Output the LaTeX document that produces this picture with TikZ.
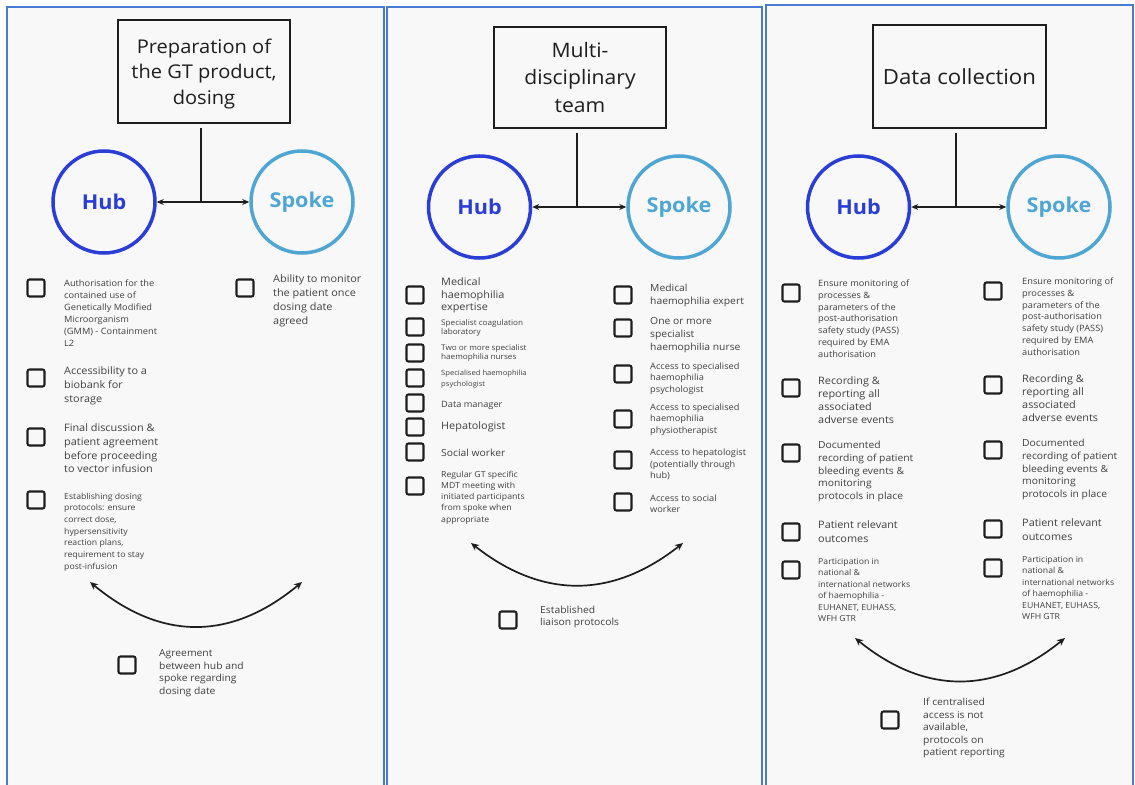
\documentclass[tikz,border=0pt]{standalone}
\usepackage{fontspec}
\setmainfont{Open Sans}[FakeStretch=1.06]
\usetikzlibrary{arrows.meta}
\definecolor{panelbg}{HTML}{F8F8F8}
\definecolor{panelbd}{HTML}{4A7BD2}
\definecolor{hubblue}{HTML}{2A3ED6}
\definecolor{spokeblue}{HTML}{4FA6D3}
\definecolor{txtgray}{HTML}{404040}
\definecolor{ttlblack}{HTML}{1E1E1E}
\tikzset{
  panel/.style={fill=panelbg, draw=panelbd, line width=1.6bp},
  ttl/.style={draw=ttlblack, line width=1.4bp, text=ttlblack, align=center, inner sep=0pt},
  hubc/.style={circle, draw=hubblue, line width=3.5bp, minimum size=102bp, inner sep=0pt,
    text=hubblue, font=\fontsize{20.5}{24}\selectfont\bfseries},
  spkc/.style={circle, draw=spokeblue, line width=3.5bp, minimum size=102bp, inner sep=0pt,
    text=spokeblue, font=\fontsize{20.5}{24}\selectfont\bfseries},
  conn/.style={draw=ttlblack, line width=1.4bp},
  link/.style={draw=ttlblack, line width=1.4bp, {Stealth[length=7bp,width=6bp]}-{Stealth[length=7bp,width=6bp]}},
  curv/.style={draw=ttlblack, line width=1.7bp, {Stealth[length=8bp,width=7bp]}-{Stealth[length=8bp,width=7bp]}},
  cbox/.style={draw=ttlblack, line width=2.1bp, rounded corners=2bp, minimum size=17bp, inner sep=0pt},
  itxt/.style={anchor=west, align=left, inner sep=0pt, text=txtgray},
}
\newcommand\ckitem[8]{%
  \node[cbox] (#1b) at (#2,#3) {};
  \node[itxt, font=\fontsize{\fpeval{#6*1.03}}{#7}\selectfont] (#1t) at (#4,#5) {#8};}
\begin{document}
\begin{tikzpicture}[x=1bp,y=-1bp]
\useasboundingbox (0,0) rectangle (1135,785);
\fill[white] (0,0) rectangle (1135,785);
% panels
\path[panel] (7,7) rectangle (384,795);
\path[panel] (387,7) rectangle (762,795);
\path[panel] (766,5) rectangle (1133,795);

% ---------- Panel 1 ----------
\node[ttl, minimum width=172bp, minimum height=103bp, text depth=0pt, font=\fontsize{19}{25.5}\selectfont] (t1) at (204,71.5) {Preparation of\\the GT product,\\dosing};
\node[hubc] (h1) at (104,202) {Hub};
\node[spkc] (s1) at (302,202) {Spoke};
\coordinate (j1) at (201,202);
\draw[link] (h1) -- (s1);
\draw[conn] ([yshift=-4bp]t1.south -| j1) -- (j1);

\ckitem{p1a}{36}{288}{64}{313}{8.5}{12}{Authorisation for the\\contained use of\\Genetically Modified\\Microorganism\\(GMM) - Containment\\L2}
\ckitem{p1b}{36}{378}{64}{386}{10}{14}{Accessibility to a\\biobank for\\storage}
\ckitem{p1c}{36}{437}{64}{448.5}{10}{13.7}{Final discussion \&\\patient agreement\\before proceeding\\to vector infusion}
\ckitem{p1d}{36}{500}{64}{532}{8}{11.7}{Establishing dosing\\protocols: ensure\\correct dose,\\hypersensitivity\\reaction plans,\\requirement to stay\\post-infusion}
\ckitem{p1e}{245}{288}{273}{301}{10}{14}{Ability to monitor\\the patient once\\dosing date\\agreed}
\coordinate (c1a) at (90,582);
\coordinate (c1b) at (302,582);
\draw[curv] (c1a) .. controls (161,641) and (231,641) .. (c1b);
\ckitem{p1f}{127}{665}{159}{673}{9.5}{12.7}{Agreement\\between hub and\\spoke regarding\\dosing date}

% ---------- Panel 2 ----------
\node[ttl, minimum width=172bp, minimum height=101bp, font=\fontsize{20}{28}\selectfont] (t2) at (580,77.5) {Multi-\\disciplinary\\team};
\node[hubc] (h2) at (479.5,207) {Hub};
\node[spkc] (s2) at (679,207) {Spoke};
\coordinate (j2) at (577,207);
\draw[link] (h2) -- (s2);
\draw[conn] ([yshift=-4bp]t2.south -| j2) -- (j2);

\ckitem{p2a}{415}{295}{441}{295.5}{10}{12.5}{Medical\\haemophilia\\expertise}
\ckitem{p2b}{415}{327}{441}{328}{7.5}{10}{Specialist coagulation\\laboratory}
\ckitem{p2c}{415}{353}{441}{353}{7.5}{10}{Two or more specialist\\haemophilia nurses}
\ckitem{p2d}{415}{378}{441}{379.5}{7}{11}{Specialised haemophilia\\psychologist}
\ckitem{p2e}{415}{403}{441}{405}{8.5}{11}{Data manager}
\ckitem{p2f}{415}{427}{441}{427}{10}{12}{Hepatologist}
\ckitem{p2g}{415}{452}{441}{453}{9.5}{12}{Social worker}
\ckitem{p2h}{415}{486}{441}{497.5}{8}{11.3}{Regular GT specific\\MDT meeting with\\initiated participants\\from spoke when\\appropriate}

\ckitem{p2i}{623}{295}{650}{295.5}{9.5}{13}{Medical\\haemophilia expert}
\ckitem{p2j}{623}{328}{650}{335}{9.5}{13}{One or more\\specialist\\haemophilia nurse}
\ckitem{p2k}{623}{374}{650}{378.5}{8.5}{11.5}{Access to specialised\\haemophilia\\psychologist}
\ckitem{p2l}{623}{419}{650}{419.5}{8.5}{11.5}{Access to specialised\\haemophilia\\physiotherapist}
\ckitem{p2m}{623}{460}{650}{464.5}{8.5}{11.5}{Access to hepatologist\\(potentially through\\hub)}
\ckitem{p2n}{623}{502}{650}{503.5}{8.5}{11.5}{Access to social\\worker}
\coordinate (c2a) at (471,543);
\coordinate (c2b) at (683,543);
\draw[curv] (c2a) .. controls (542,599) and (612,599) .. (c2b);
\ckitem{p2o}{508}{620}{540}{617}{9.5}{12}{Established\\liaison protocols}

% ---------- Panel 3 ----------
\node[ttl, minimum width=173bp, minimum height=103bp, font=\fontsize{21}{28}\selectfont] (t3) at (959.5,76.5) {Data collection};
\node[hubc] (h3) at (858.5,207) {Hub};
\node[spkc] (s3) at (1059,207) {Spoke};
\coordinate (j3) at (956,207);
\draw[link] (h3) -- (s3);
\draw[conn] ([yshift=-4bp]t3.south -| j3) -- (j3);

\ckitem{p3a}{791}{293}{818}{318.5}{8.5}{11.8}{Ensure monitoring of\\processes \&\\parameters of the\\post-authorisation\\safety study (PASS)\\required by EMA\\authorisation}
\ckitem{p3b}{791}{388}{818}{400.5}{10}{13}{Recording \&\\reporting all\\associated\\adverse events}
\ckitem{p3c}{791}{453}{818}{471.5}{9.5}{12.75}{Documented\\recording of patient\\bleeding events \&\\monitoring\\protocols in place}
\ckitem{p3d}{791}{532}{818}{532}{10}{14}{Patient relevant\\outcomes}
\ckitem{p3e}{791}{570}{818}{590}{8}{11.6}{Participation in\\national \&\\international networks\\of haemophilia -\\EUHANET, EUHASS,\\WFH GTR}

\ckitem{p3f}{993}{291}{1022}{316.5}{8.5}{11.8}{Ensure monitoring of\\processes \&\\parameters of the\\post-authorisation\\safety study (PASS)\\required by EMA\\authorisation}
\ckitem{p3g}{993}{385}{1022}{398.5}{10}{13}{Recording \&\\reporting all\\associated\\adverse events}
\ckitem{p3h}{993}{450}{1022}{469.5}{9.5}{12.75}{Documented\\recording of patient\\bleeding events \&\\monitoring\\protocols in place}
\ckitem{p3i}{993}{529}{1022}{530}{10}{14}{Patient relevant\\outcomes}
\ckitem{p3j}{993}{568}{1022}{588}{8}{11.6}{Participation in\\national \&\\international networks\\of haemophilia -\\EUHANET, EUHASS,\\WFH GTR}

\coordinate (c3a) at (855,638);
\coordinate (c3b) at (1065,638);
\draw[curv] (c3a) .. controls (925,695) and (995,695) .. (c3b);
\ckitem{p3k}{890}{720}{923}{728}{9.5}{12.5}{If centralised\\access is not\\available,\\protocols on\\patient reporting}
\end{tikzpicture}
\end{document}
